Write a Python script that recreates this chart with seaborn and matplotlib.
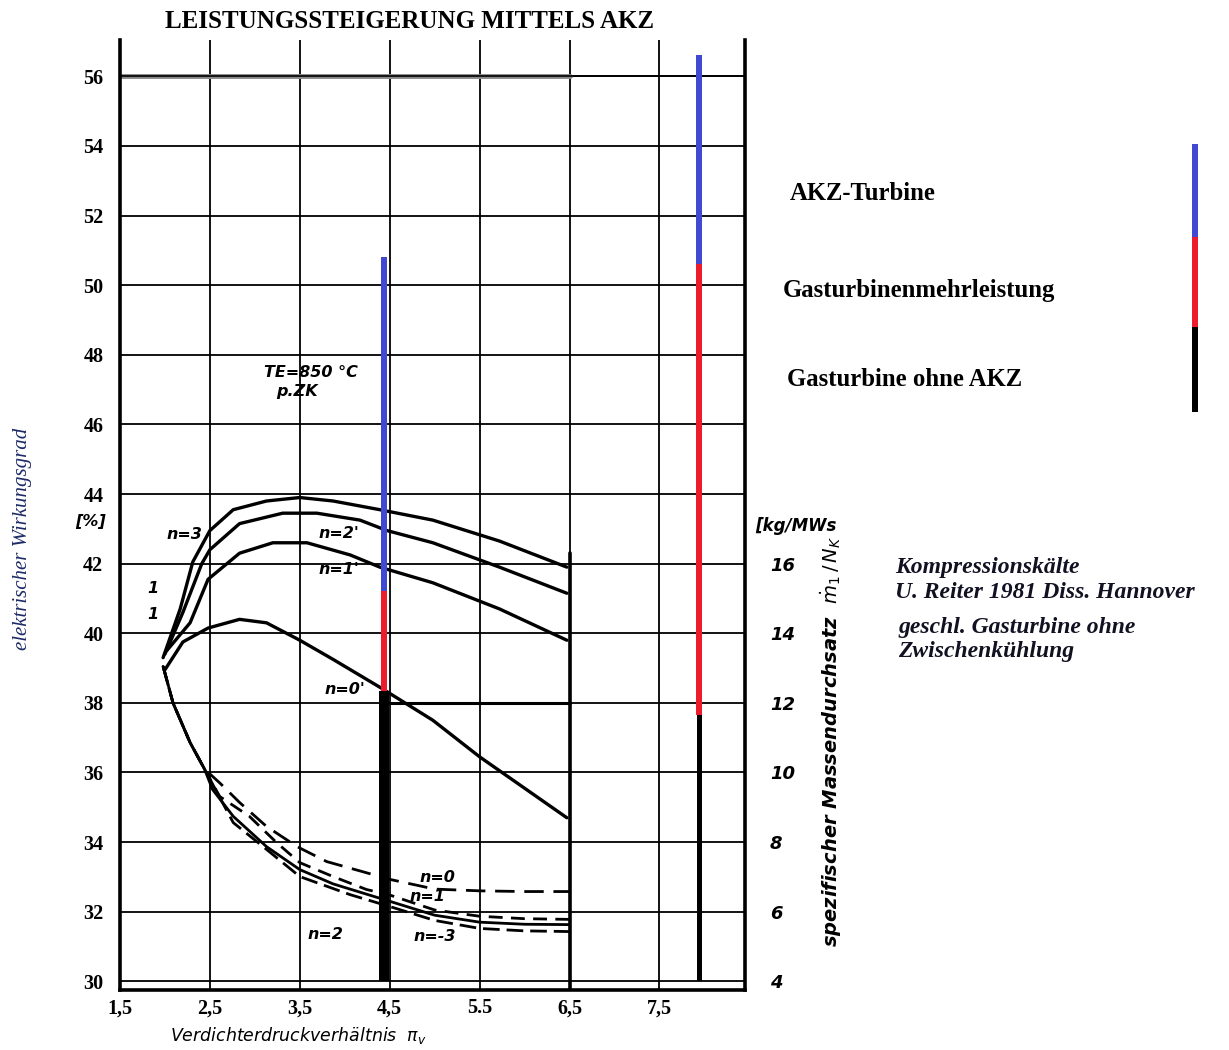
import matplotlib
matplotlib.use("Agg")
import matplotlib.pyplot as plt
import seaborn as sns

# ---- data ----
x_ticks = [1.5, 2.5, 3.5, 4.5, 5.5, 6.5, 7.5]
x_ticklabels = ['1,5', '2,5', '3,5', '4,5', '5.5', '6,5', '7,5']
y_ticks = list(range(30, 57, 2))
mass_ticks = list(range(4, 17, 2))

# elektrischer Wirkungsgrad [%]
eff_n3_x = [1.98, 2.17, 2.31, 2.5, 2.76, 3.13, 3.5, 3.87, 4.39, 4.98, 5.72, 6.47]
eff_n3_y = [39.3, 40.7, 42.05, 42.95, 43.55, 43.8, 43.9, 43.8, 43.55, 43.25, 42.65, 41.9]
eff_n2_x = [2.0, 2.2, 2.41, 2.5, 2.83, 3.31, 3.69, 4.17, 4.47, 4.98, 5.72, 6.47]
eff_n2_y = [39.4, 40.6, 42.0, 42.4, 43.15, 43.45, 43.45, 43.25, 42.95, 42.6, 41.9, 41.15]
eff_n1_x = [2.02, 2.28, 2.48, 2.83, 3.2, 3.58, 4.06, 4.39, 4.98, 5.72, 6.47]
eff_n1_y = [39.5, 40.3, 41.55, 42.3, 42.6, 42.6, 42.25, 41.9, 41.45, 40.7, 39.8]
eff_n0_x = [2.0, 2.2, 2.48, 2.83, 3.13, 3.5, 3.87, 4.39, 4.98, 5.5, 6.47]
eff_n0_y = [38.95, 39.75, 40.15, 40.4, 40.3, 39.8, 39.25, 38.45, 37.5, 36.45, 34.7]

# spezifischer Massendurchsatz [kg/MWs]
mass_n0_x = [1.98, 2.09, 2.28, 2.44, 2.61, 2.83, 3.13, 3.47, 3.8, 4.31, 4.5, 5.0, 5.5, 6.0, 6.5]
mass_n0_y = [13.05, 12.0, 10.86, 10.1, 9.7, 9.14, 8.45, 7.87, 7.44, 7.07, 6.93, 6.65, 6.6, 6.58, 6.58]
mass_n1_x = [1.98, 2.09, 2.28, 2.44, 2.61, 2.94, 3.24, 3.5, 3.87, 4.24, 4.5, 5.0, 5.5, 6.0, 6.5]
mass_n1_y = [13.05, 12.0, 10.86, 10.1, 9.31, 8.74, 7.99, 7.41, 7.01, 6.64, 6.48, 6.05, 5.87, 5.8, 5.78]
mass_n2_x = [1.98, 2.09, 2.28, 2.44, 2.53, 2.76, 3.13, 3.5, 3.87, 4.5, 5.0, 5.5, 6.0, 6.5]
mass_n2_y = [13.05, 12.0, 10.86, 10.1, 9.51, 8.74, 7.87, 7.21, 6.8, 6.3, 5.9, 5.7, 5.64, 5.63]
mass_n3_x = [1.98, 2.09, 2.28, 2.44, 2.76, 3.13, 3.5, 4.06, 4.5, 5.0, 5.5, 6.0, 6.5]
mass_n3_y = [13.05, 12.0, 10.86, 10.1, 8.56, 7.79, 7.01, 6.49, 6.15, 5.75, 5.52, 5.45, 5.43]

# AKZ bars: Gasturbine ohne AKZ / Gasturbinenmehrleistung / AKZ-Turbine
bar_x = [4.44, 7.94]
bar_base = [38.35, 37.65]
bar_plus = [41.2, 50.6]
bar_top = [50.8, 56.6]
legend_parts = ['Gasturbine ohne AKZ', 'Gasturbinenmehrleistung', 'AKZ-Turbine']
legend_sizes = [1, 1.07, 1.1]

BLUE = '#4149d2'
RED = '#ec1c2c'

sns.set_style('white')
plt.rcParams['font.family'] = ['Liberation Serif', 'DejaVu Serif']
plt.rcParams['text.color'] = 'black'
plt.rcParams['xtick.color'] = 'black'
plt.rcParams['ytick.color'] = 'black'
plt.rcParams['axes.labelcolor'] = 'black'

fig = plt.figure(figsize=(12.29, 10.5), dpi=100)
ax = fig.add_axes([0.0976, 0.0571, 0.5085, 0.905])
ax2 = ax.twinx()
ax.set_zorder(ax2.get_zorder() + 1)
ax.patch.set_visible(False)

ymin, ymax = 29.75, 57.05
ax.set_xlim(1.5, 8.45)
ax.set_ylim(ymin, ymax)
ax2.set_ylim(ymin - 26, ymax - 26)

# grid like the old scan
ax.set_xticks(x_ticks)
ax.set_xticklabels(x_ticklabels, fontsize=14.5, fontweight='bold')
ax.set_yticks(y_ticks)
ax.set_yticklabels([str(v) for v in y_ticks], fontsize=14.5, fontweight='bold')
ax.tick_params(axis='y', length=0, pad=12)
ax.tick_params(axis='x', length=0, pad=6)
ax.grid(True, color='black', lw=1.3)
for s in ['left', 'right', 'bottom']:
    ax.spines[s].set_linewidth(2.6)
    ax.spines[s].set_color('black')
ax.spines['top'].set_visible(False)
for s in ax2.spines.values():
    s.set_visible(False)

# thicker frame lines of the original diagram
ax.plot([6.5, 6.5], [ymin, 42.3], color='black', lw=2.6)
ax.plot([4.5, 6.5], [38, 38], color='black', lw=2.2)
ax.plot([1.5, 6.5], [56, 56], color='#888888', lw=3.5, zorder=1)
ax.plot([1.5, 8.45], [56, 56], color='black', lw=1.2, zorder=2)

# efficiency curves
for cx, cy in [(eff_n3_x, eff_n3_y), (eff_n2_x, eff_n2_y),
               (eff_n1_x, eff_n1_y), (eff_n0_x, eff_n0_y)]:
    sns.lineplot(x=cx, y=cy, ax=ax, color='black', lw=2.4)

# mass flow curves (right scale)
ax2.set_yticks(mass_ticks)
ax2.set_yticklabels([str(v) for v in mass_ticks], fontsize=13, fontweight='bold',
                    fontstyle='italic', family='DejaVu Sans')
ax2.tick_params(length=0, pad=18)
for cx, cy, ls in [(mass_n0_x, mass_n0_y, (0, (7, 3.5))),
                   (mass_n1_x, mass_n1_y, (0, (5, 3))),
                   (mass_n2_x, mass_n2_y, '-'),
                   (mass_n3_x, mass_n3_y, (0, (6, 2.5)))]:
    sns.lineplot(x=cx, y=cy, ax=ax2, color='black', lw=2.0, linestyle=ls)
ax2.grid(False)

# AKZ bars
ax.bar(bar_x[0], bar_base[0] - 30, bottom=30, width=0.11, color='black',
       linewidth=0, zorder=5)
ax.bar(bar_x[1], bar_base[1] - 30, bottom=30, width=0.055, color='black',
       linewidth=0, zorder=5)
for i in range(2):
    ax.bar(bar_x[i], bar_plus[i] - bar_base[i], bottom=bar_base[i], width=0.063,
           color=RED, linewidth=0, zorder=5)
    ax.bar(bar_x[i], bar_top[i] - bar_plus[i], bottom=bar_plus[i], width=0.063,
           color=BLUE, linewidth=0, zorder=5)

# annotations inside the diagram
ann = dict(fontsize=11.5, fontstyle='italic', fontweight='bold', family='DejaVu Sans',
           ha='center', va='center')
ax.text(2.22, 42.84, 'n=3', **ann)
ax.text(3.94, 42.87, "n=2'", **ann)
ax.text(3.94, 41.83, "n=1'", **ann)
ax.text(4.0, 38.39, "n=0'", **ann)
ax.text(5.03, 32.98, 'n=0', **ann)
ax.text(4.92, 32.44, 'n=1', **ann)
ax.text(3.78, 31.34, 'n=2', **ann)
ax.text(5.0, 31.29, 'n=-3', **ann)
ax.text(3.62, 47.5, 'TE=850 °C', **ann)
ax.text(3.47, 46.95, 'p.ZK', **ann)
ax.text(1.87, 41.3, '1', **ann)
ax.text(1.87, 40.55, '1', **ann)
ax.text(1.17, 43.2, '[%]', clip_on=False, **ann)
ax.text(8.56, 43.07, '[kg/MWs', fontsize=12, fontstyle='italic', fontweight='bold',
        family='DejaVu Sans', ha='left', va='center', clip_on=False)
ax.text(9.41, 36.9, r'spezifischer Massendurchsatz  $\dot{m}_1\,/\,N_K$', rotation=90,
        fontsize=14, fontstyle='italic', fontweight='bold', family='DejaVu Sans',
        ha='center', va='center', clip_on=False)
ax.text(1.5 - 98 / 90, 42.7, 'elektrischer Wirkungsgrad', rotation=90, fontsize=15,
        fontstyle='italic', color='#1c2a66', ha='center', va='center', clip_on=False)

# titles and notes
fig.text(410 / 1229, 1 - 22 / 1050, 'LEISTUNGSSTEIGERUNG MITTELS AKZ', fontsize=18,
         fontweight='bold', ha='center', va='center')
fig.text(170 / 1229, 4 / 1050, r'Verdichterdruckverhältnis  $\pi_v$', fontsize=12.5,
         fontstyle='italic', family='DejaVu Sans', ha='left', va='bottom')
leg_y = [380, 290, 193]
leg_x = [787, 783, 790]
for lbl, lx, ly in zip(legend_parts, leg_x, leg_y):
    fig.text(lx / 1229, 1 - ly / 1050, lbl, fontsize=17.8, fontweight='bold',
             ha='left', va='center')
note = dict(fontsize=17, fontweight='bold', fontstyle='italic', color='#111122',
            ha='left', va='center')
fig.text(895 / 1229, 1 - 567 / 1050, 'Kompressionskälte', **note)
fig.text(895 / 1229, 1 - 592 / 1050, 'U. Reiter 1981 Diss. Hannover', **note)
fig.text(898 / 1229, 1 - 628 / 1050, 'geschl. Gasturbine ohne', **note)
fig.text(898 / 1229, 1 - 651 / 1050, 'Zwischenkühlung', **note)

# colour key bar
axl = fig.add_axes([1180 / 1229, 1 - 412 / 1050, 30 / 1229, 268 / 1050])
axl.axis('off')
bottom = 0
for size, col in zip(legend_sizes, ['black', RED, BLUE]):
    axl.bar(0, size, bottom=bottom, width=0.2, color=col, linewidth=0)
    bottom += size
axl.set_xlim(-0.5, 0.5)
axl.set_ylim(0, bottom)

fig.savefig('out.png', dpi=100)
